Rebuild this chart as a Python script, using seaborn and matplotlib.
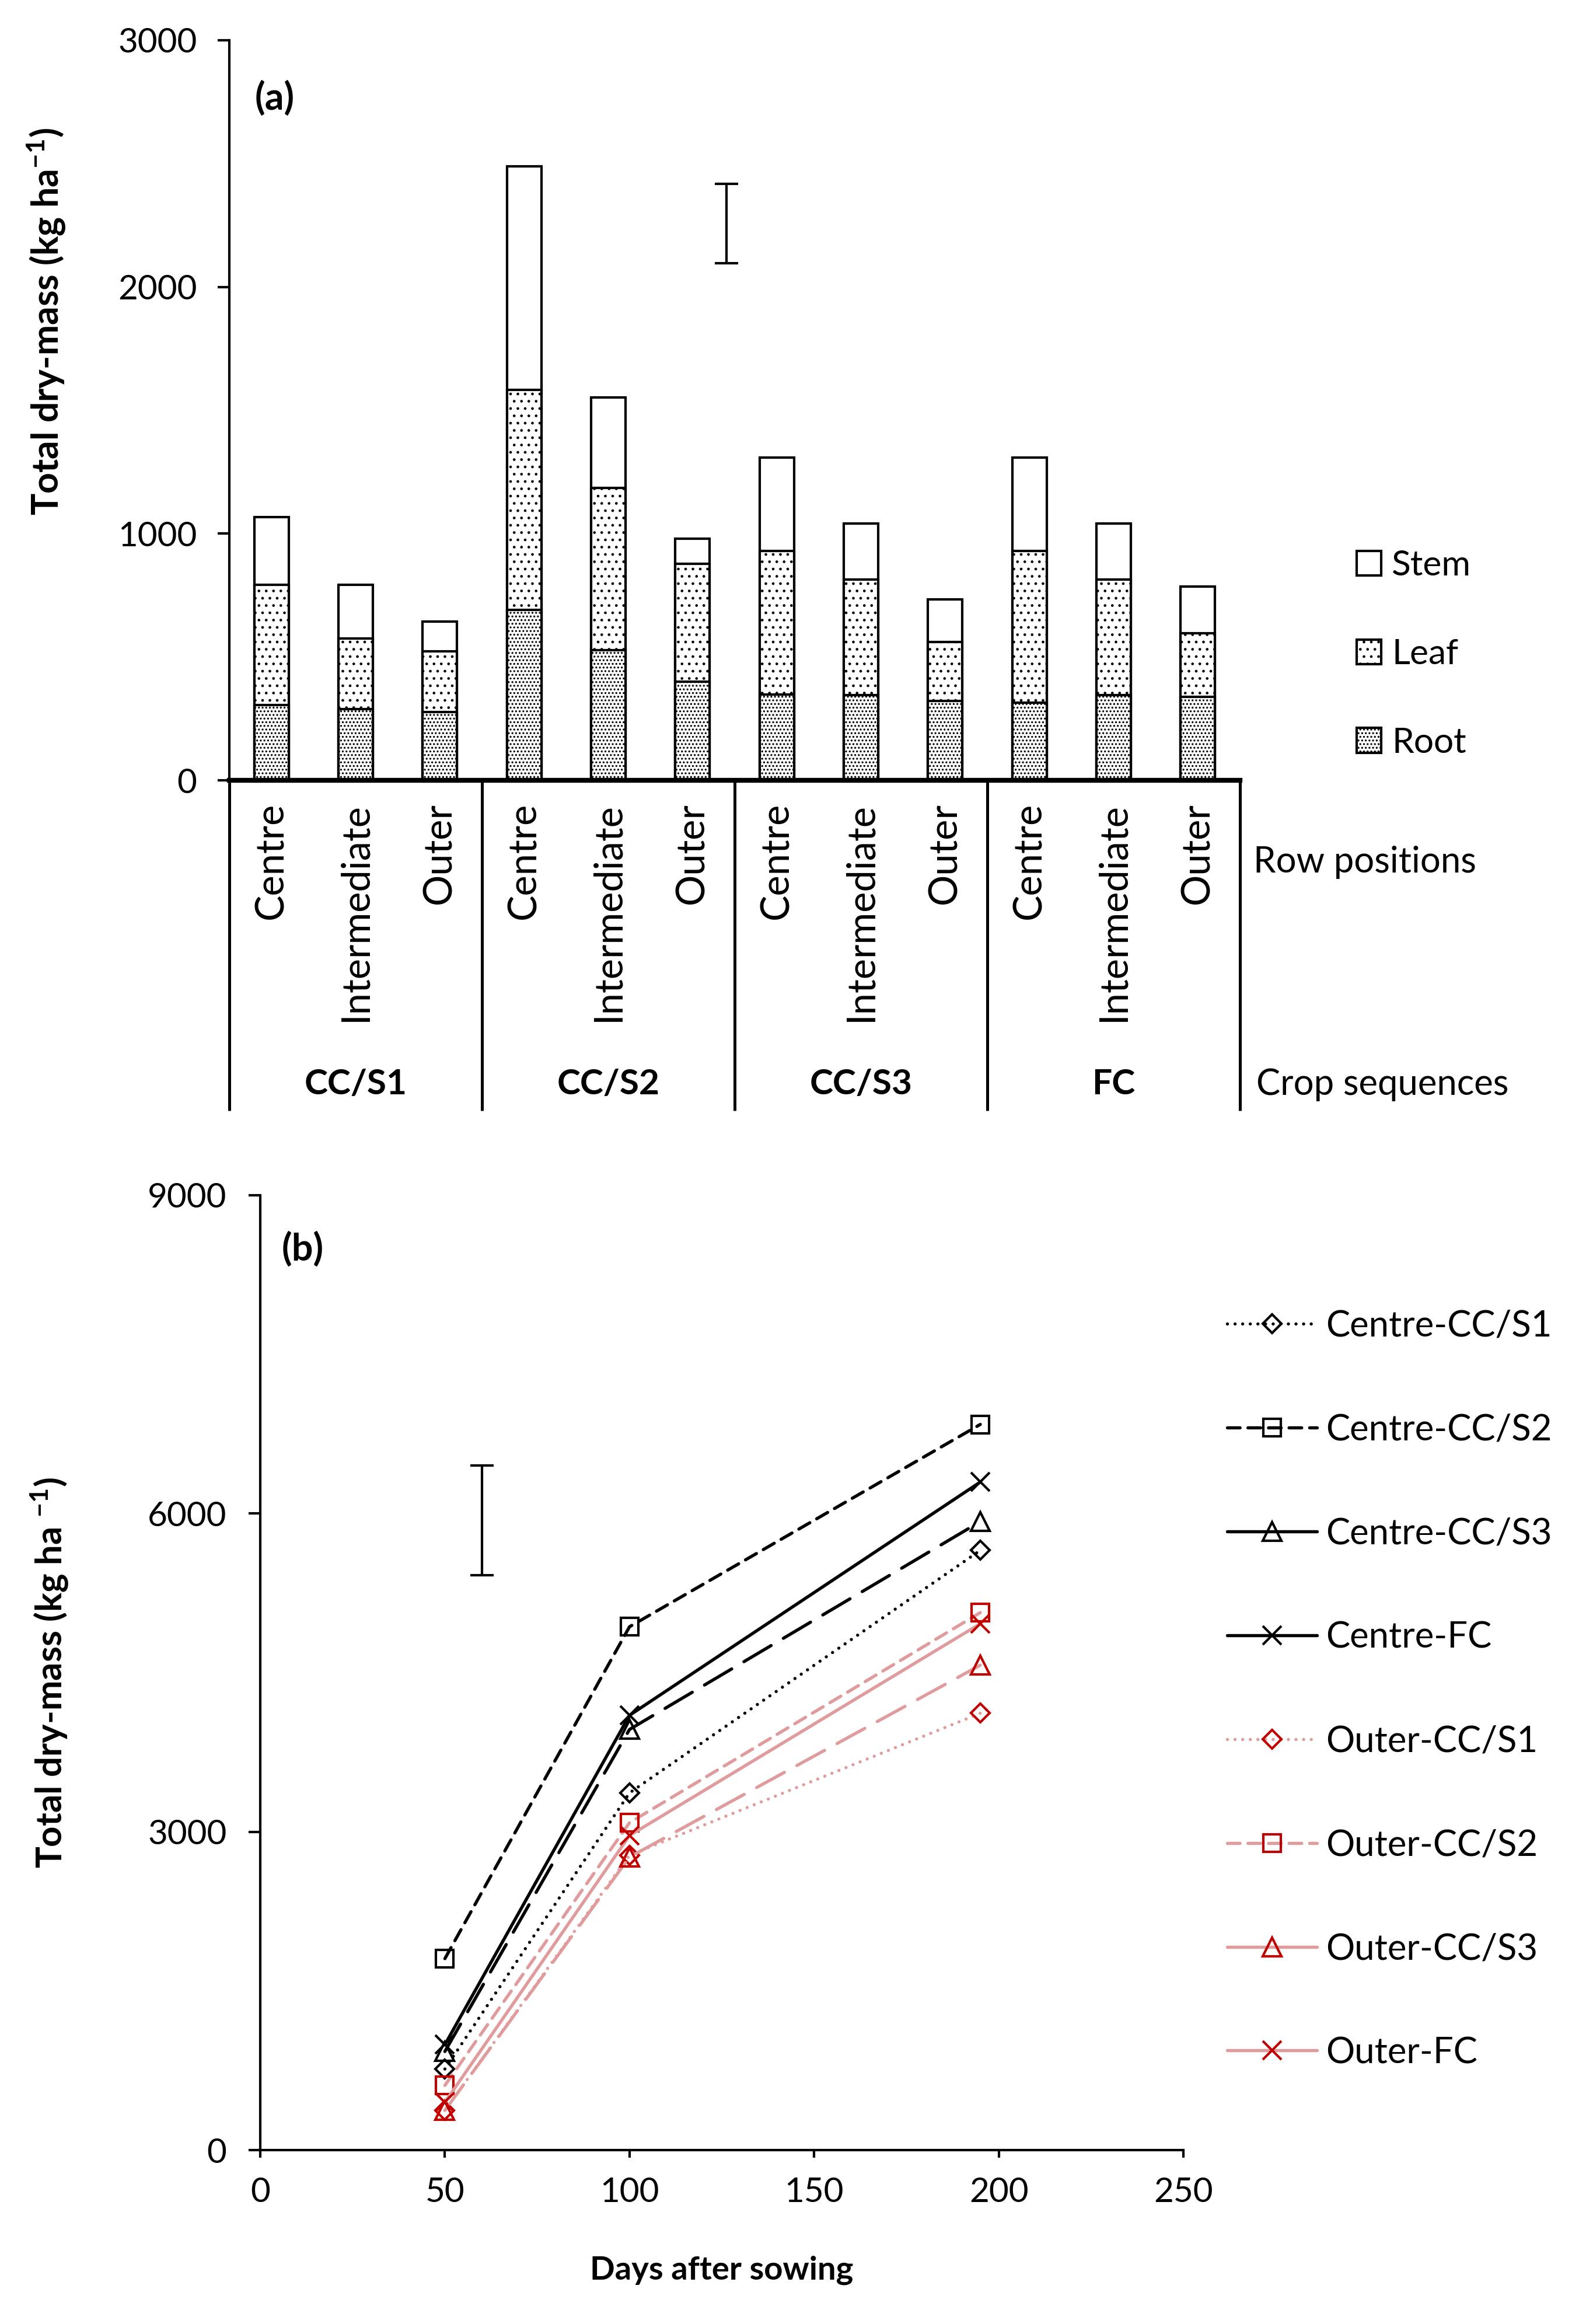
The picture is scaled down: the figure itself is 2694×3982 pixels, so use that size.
import pandas as pd
import matplotlib.pyplot as plt
import matplotlib.transforms as mtransforms
import seaborn as sns
from matplotlib.lines import Line2D
from matplotlib.patches import Patch

sns.set_theme(style="white")
plt.rcParams['font.family'] = ['Lato', 'DejaVu Sans']
plt.rcParams['mathtext.fontset'] = 'custom'
plt.rcParams['mathtext.rm'] = 'Lato'
plt.rcParams['mathtext.bf'] = 'Lato:bold'
plt.rcParams['hatch.linewidth'] = 0.5
plt.rcParams['text.color'] = 'black'
plt.rcParams['axes.labelcolor'] = 'black'
plt.rcParams['xtick.color'] = 'black'
plt.rcParams['ytick.color'] = 'black'

# ---- (a) dry mass partition by row position and crop sequence
crop_sequences = ['CC/S1', 'CC/S2', 'CC/S3', 'FC']
row_positions = ['Centre', 'Intermediate', 'Outer']
root = [306, 289, 277, 691, 528, 401, 349, 346, 321, 315, 346, 338]
leaf = [486, 286, 245, 891, 657, 476, 581, 467, 239, 615, 467, 258]
stem = [275, 217, 122, 907, 368, 103, 378, 227, 173, 378, 227, 190]
lsd_a_x, lsd_a_low, lsd_a_high = 5.4, 2096, 2419

# ---- (b) total dry mass over time
days = [50, 100, 195]
centre_s1 = [765, 3367, 5653]
centre_s2 = [1805, 4933, 6840]
centre_s3 = [930, 3965, 5924]
centre_fc = [995, 4098, 6297]
outer_s1 = [375, 2780, 4118]
outer_s2 = [610, 3086, 5066]
outer_s3 = [375, 2762, 4571]
outer_fc = [451, 2965, 4962]
lsd_b_x, lsd_b_low, lsd_b_high = 60, 5419, 6455

bar_ids = [f'{s}-{p}' for s in crop_sequences for p in row_positions]
df = pd.DataFrame({'bar': bar_ids, 'root': root, 'leaf': leaf, 'stem': stem})
df['root_leaf'] = df['root'] + df['leaf']
df['total'] = df['root_leaf'] + df['stem']

leaf_hatch = '....'
root_hatch = '........'

W, H, DPI = 2695, 3982, 300
fig = plt.figure(figsize=(W / DPI, H / DPI), dpi=DPI)
fig.patch.set_facecolor('white')

ax1 = fig.add_axes([0.1458, 0.6642, 0.7885 - 0.1458, 0.9827 - 0.6642])
bar_kw = dict(data=df, x='bar', order=bar_ids, color='white', edgecolor='black',
              linewidth=1.0, width=0.41, saturation=1, errorbar=None, ax=ax1)
sns.barplot(y='total', **bar_kw)
sns.barplot(y='root_leaf', hatch=leaf_hatch, **bar_kw)
sns.barplot(y='root', hatch=root_hatch, **bar_kw)

ax1.errorbar(lsd_a_x, (lsd_a_low + lsd_a_high) / 2, yerr=(lsd_a_high - lsd_a_low) / 2,
             color='black', elinewidth=1.0, capsize=4.9, capthick=1.0)

ax1.set_xlim(-0.5, 11.5)
ax1.set_ylim(0, 3000)
ax1.set_yticks([0, 1000, 2000, 3000])
ax1.set_xticks(range(len(bar_ids)))
ax1.set_xticklabels(row_positions * len(crop_sequences), rotation=90, fontsize=16)
ax1.tick_params(axis='x', length=0, pad=9)
ax1.tick_params(axis='y', left=True, length=4.8, width=1.0, labelsize=14, pad=8.5)
ax1.set_xlabel('')
for sp in ['top', 'right']:
    ax1.spines[sp].set_visible(False)
ax1.spines['left'].set_linewidth(1.0)
ax1.spines['bottom'].set_linewidth(2.0)
for sp in ax1.spines.values():
    sp.set_color('black')

ax1.set_ylabel(r'Total dry-mass (kg ha$^{\mathbf{-1}}$)', fontsize=15, fontweight='bold')
ax1.yaxis.set_label_coords(-0.181, 0.62)
ax1.yaxis.label.set_verticalalignment('center')
ax1.text(0.025, 0.922, '(a)', transform=ax1.transAxes, fontsize=15.5,
         fontweight='bold', ha='left', va='center')

trans1 = mtransforms.blended_transform_factory(ax1.transData, ax1.transAxes)
for i, seq in enumerate(crop_sequences):
    ax1.text(3 * i + 1, -0.411, seq, transform=trans1, ha='center', va='center',
             fontsize=14.5, fontweight='bold')
for k in range(len(crop_sequences) + 1):
    xb = 3 * k - 0.5
    ax1.plot([xb, xb], [0, -0.446], transform=trans1, color='black', lw=1.2,
             clip_on=False, solid_capstyle='butt')

fig.text(0.797, 1 - 1478 / H, 'Row positions', fontsize=14.8, ha='left', va='center')
fig.text(0.799, 1 - 1858 / H, 'Crop sequences', fontsize=14.8, ha='left', va='center')

leg_a = [Patch(facecolor='white', edgecolor='black', lw=1.0, label='Stem'),
         Patch(facecolor='white', edgecolor='black', lw=1.0, hatch=leaf_hatch, label='Leaf'),
         Patch(facecolor='white', edgecolor='black', lw=1.0, hatch=root_hatch, label='Root')]
fig.legend(handles=leg_a, loc='upper left', bbox_to_anchor=(0.8627, 1 - (977 - 35) / H),
           frameon=False, borderpad=0, borderaxespad=0, fontsize=14.5,
           handlelength=0.7, handleheight=0.7, handletextpad=0.3, labelspacing=1.62)

# ---- (b)
ax2 = fig.add_axes([0.1655, 0.0748, 0.7525 - 0.1655, 0.4857 - 0.0748])
pink = '#E09C9C'
red = '#C00000'
dot = (0, (0.01, 2.4))
short = (0, (4, 2.5))
long_ = (0, (10, 4.5))
series = [
    ('Centre-CC/S1', centre_s1, 'black', 'black', dot, 'D', 5.5),
    ('Centre-CC/S2', centre_s2, 'black', 'black', short, 's', 7.0),
    ('Centre-CC/S3', centre_s3, 'black', 'black', long_, '^', 7.5),
    ('Centre-FC', centre_fc, 'black', 'black', '-', 'x', 7.5),
    ('Outer-CC/S1', outer_s1, pink, red, dot, 'D', 5.5),
    ('Outer-CC/S2', outer_s2, pink, red, short, 's', 7.0),
    ('Outer-CC/S3', outer_s3, pink, red, long_, '^', 7.5),
    ('Outer-FC', outer_fc, pink, red, '-', 'x', 7.5),
]
for name, vals, lc, mc, ls, mk, ms in series:
    sns.lineplot(x=days, y=vals, ax=ax2, color=lc, linestyle=ls, linewidth=1.3,
                 marker=mk, markersize=ms, markerfacecolor='none',
                 markeredgecolor=mc, markeredgewidth=1.0,
                 dash_capstyle='round', legend=False)

ax2.errorbar(lsd_b_x, (lsd_b_low + lsd_b_high) / 2, yerr=(lsd_b_high - lsd_b_low) / 2,
             color='black', elinewidth=1.0, capsize=4.9, capthick=1.0)

ax2.set_xlim(0, 250)
ax2.set_ylim(0, 9000)
ax2.set_xticks([0, 50, 100, 150, 200, 250])
ax2.set_yticks([0, 3000, 6000, 9000])
ax2.tick_params(axis='y', left=True, length=4.8, width=1.0, labelsize=14, pad=9)
ax2.tick_params(axis='x', bottom=True, length=3, width=1.0, labelsize=14, pad=8)
for sp in ['top', 'right']:
    ax2.spines[sp].set_visible(False)
for sp in ['left', 'bottom']:
    ax2.spines[sp].set_linewidth(1.0)
    ax2.spines[sp].set_color('black')

ax2.set_xlabel('Days after sowing', fontsize=13.5, fontweight='bold')
ax2.xaxis.set_label_coords(0.5, -0.11)
ax2.set_ylabel(r'Total dry-mass (kg ha $^{\mathbf{-1}}$)', fontsize=14.8, fontweight='bold')
ax2.yaxis.set_label_coords(-0.228, 0.5)
ax2.yaxis.label.set_verticalalignment('center')
ax2.text(0.023, 0.944, '(b)', transform=ax2.transAxes, fontsize=15.5,
         fontweight='bold', ha='left', va='center')

legend_styles = [dot, short, '-', '-', dot, short, '-', '-']
leg_b = []
for (name, vals, lc, mc, ls, mk, ms), lls in zip(series, legend_styles):
    leg_b.append(Line2D([], [], color=lc, linestyle=lls, linewidth=1.3, marker=mk,
                        markersize=ms, markerfacecolor='none', markeredgecolor=mc,
                        markeredgewidth=1.0, dash_capstyle='round', label=name))
fig.legend(handles=leg_b, loc='upper left', bbox_to_anchor=(0.7803, 1 - (2280 - 36) / H),
           frameon=False, borderpad=0, borderaxespad=0, fontsize=14.8,
           handlelength=2.5, handletextpad=0.25, labelspacing=1.96)

fig.savefig('out.png', dpi=DPI, facecolor='white')
